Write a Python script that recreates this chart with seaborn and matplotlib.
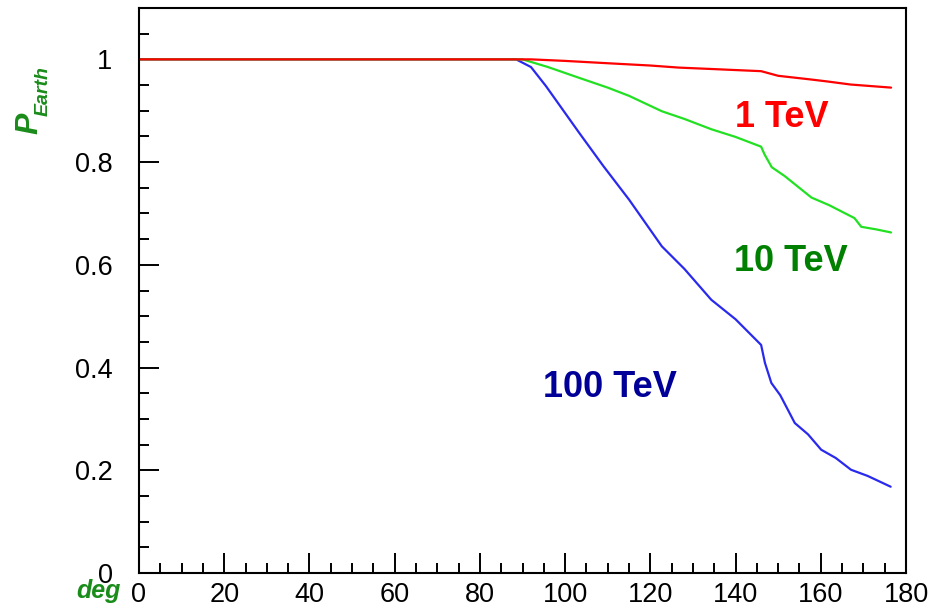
import matplotlib
matplotlib.use("Agg")
import matplotlib.pyplot as plt
import seaborn as sns
import pandas as pd
import numpy as np

# ---- data ----
angle_1tev = [0, 30, 60, 92, 100, 111, 120, 126.6, 135, 146, 150, 157.5, 161.5, 167, 176.5]
p_1tev = [1, 1, 1, 1, 0.997, 0.992, 0.988, 0.984, 0.981, 0.977, 0.968, 0.961, 0.957, 0.951, 0.945]

angle_10tev = [0, 30, 60, 90, 96, 103.3, 110, 115, 122.7, 128, 134.3, 140, 146, 146.8,
               148.5, 151.5, 157.8, 162, 167.9, 169.5, 173, 176.5]
p_10tev = [1, 1, 1, 1, 0.985, 0.964, 0.945, 0.929, 0.899, 0.884, 0.864, 0.849, 0.830, 0.815,
           0.790, 0.773, 0.731, 0.716, 0.691, 0.674, 0.669, 0.663]

angle_100tev = [0, 30, 60, 88.5, 92, 95.5, 103.3, 109, 115, 122.7, 128, 134.3, 140, 146,
                146.9, 148.4, 150.5, 153.9, 157, 160.1, 163.5, 167.1, 171, 176.4]
p_100tev = [1, 1, 1, 1, 0.985, 0.948, 0.857, 0.792, 0.727, 0.636, 0.592, 0.532, 0.494, 0.444,
            0.409, 0.370, 0.346, 0.292, 0.270, 0.240, 0.224, 0.201, 0.189, 0.168]

energies = ["100 TeV", "10 TeV", "1 TeV"]
xticks = [0, 20, 40, 60, 80, 100, 120, 140, 160, 180]
yticks = [0, 0.2, 0.4, 0.6, 0.8, 1.0]
ytick_labels = ["0", "0.2", "0.4", "0.6", "0.8", "1"]

line_colors = {"1 TeV": "#ff0000", "10 TeV": "#22e022", "100 TeV": "#2a2aee"}
text_colors = {"1 TeV": "#ff0000", "10 TeV": "#008000", "100 TeV": "#000099"}
label_positions = {"1 TeV": (139.8, 0.869), "10 TeV": (139.6, 0.587), "100 TeV": (94.8, 0.343)}

df = pd.concat([
    pd.DataFrame({"angle": angle_100tev, "P": p_100tev, "E": "100 TeV"}),
    pd.DataFrame({"angle": angle_10tev, "P": p_10tev, "E": "10 TeV"}),
    pd.DataFrame({"angle": angle_1tev, "P": p_1tev, "E": "1 TeV"}),
], ignore_index=True)

sns.set_theme(style="white")
plt.rcParams["font.family"] = ["Liberation Sans", "DejaVu Sans"]

W, H = 935, 609
fig = plt.figure(figsize=(W / 100, H / 100), dpi=100)
L, R, T, B = 139, 906, 8, 573
ax = fig.add_axes([L / W, 1 - B / H, (R - L) / W, (B - T) / H])

sns.lineplot(data=df, x="angle", y="P", hue="E", hue_order=energies,
             palette=line_colors, linewidth=1.6, legend=False, ax=ax,
             estimator=None, sort=True)

ax.set_xlim(0, 180)
ax.set_ylim(0, 1.1)
ax.set_xticks(xticks)
ax.set_xticklabels([str(t) for t in xticks])
ax.set_yticks(yticks)
ax.set_yticklabels(ytick_labels)
ax.set_xticks(np.arange(0, 181, 5), minor=True)
ax.set_yticks(np.arange(0, 1.101, 0.05), minor=True)
ax.set_xlabel("")
ax.set_ylabel("")

ax.tick_params(axis="both", which="major", direction="in", length=14.5, width=1.4,
               color="black", labelsize=19.5, labelcolor="black")
ax.tick_params(axis="both", which="minor", direction="in", length=7.5, width=1.4,
               color="black")
ax.tick_params(axis="x", which="both", top=False, bottom=True, pad=6.5)
ax.tick_params(axis="y", which="both", right=False, left=True, pad=19)
ax.tick_params(axis="x", which="minor", top=False)
for s in ax.spines.values():
    s.set_visible(True)
    s.set_color("black")
    s.set_linewidth(1.5)
ax.grid(False)
ax.set_facecolor("white")

for e in energies:
    x, y = label_positions[e]
    ax.text(x, y, e, color=text_colors[e], fontsize=26, fontweight="bold",
            ha="left", va="baseline")

# axis titles in ROOT style
fig.text(29 / W, 1 - 123 / H, "P", rotation=90, color="#1a8c1a", fontsize=23,
         fontweight="bold", fontstyle="italic", ha="center", va="center")
fig.text(43 / W, 1 - 91 / H, "Earth", rotation=90, color="#1a8c1a", fontsize=14,
         fontweight="bold", fontstyle="italic", ha="center", va="center")
fig.text(98 / W, 1 - 591 / H, "deg", color="#1a8c1a", fontsize=18,
         fontweight="bold", fontstyle="italic", ha="center", va="center")

fig.savefig("out.png", dpi=100, facecolor="white")
